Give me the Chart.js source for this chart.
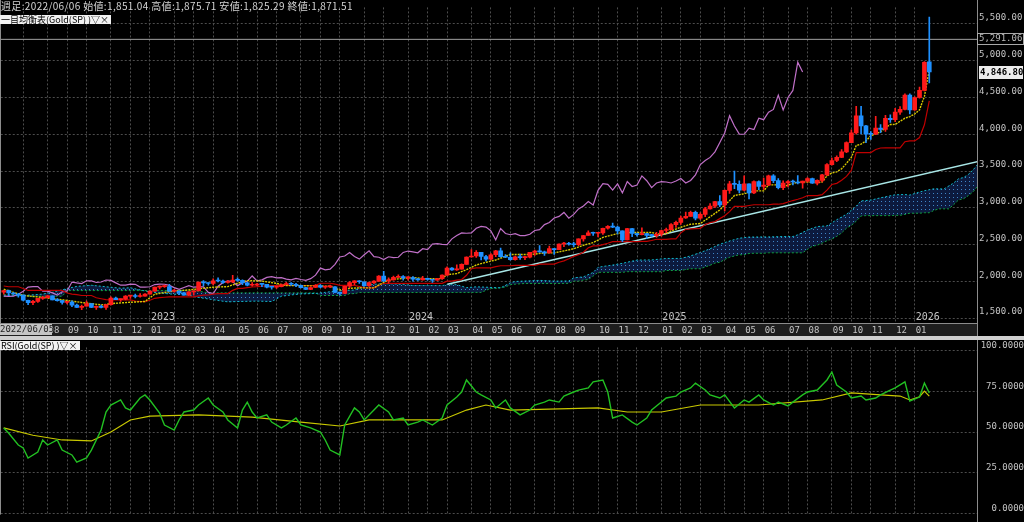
<!DOCTYPE html>
<html>
<head>
<meta charset="utf-8">
<title>Gold(SP) weekly</title>
<script src="https://cdn.jsdelivr.net/npm/chart.js@4.4.1/dist/chart.umd.min.js"></script>
<style>
  html, body { margin: 0; padding: 0; background: #000; }
  #wrap { position: relative; width: 1024px; height: 522px; overflow: hidden; background: #000; }
  canvas { position: absolute; left: 0; }
  #main { top: 0; }
  #rsi { top: 340px; }
  #sep { position: absolute; left: 0; top: 336px; width: 1024px; height: 4px; background: #cfcfcf; }
  .info { position: absolute; left: 1px; top: 0; color: #d4d4d4; font: 10px "Noto Sans CJK JP", sans-serif; letter-spacing: 0.35px; line-height: 11px; white-space: nowrap; }
  .tag { position: absolute; left: 0; background: #f2f2f2; color: #000; font: 9px "Noto Sans CJK JP", sans-serif; line-height: 9px; height: 9px; padding: 0 2px 0 1px; white-space: nowrap; }
  .datebox { position: absolute; left: 0; top: 324px; width: 52px; height: 11px; background: #c4c4c4; color: #222; font: 9px "DejaVu Sans Mono", monospace; line-height: 11px; text-align: center; }
</style>
</head>
<body>
<div id="wrap">
  <canvas id="main" width="1024" height="337"></canvas>
  <div id="sep"></div>
  <canvas id="rsi" width="1024" height="182"></canvas>
  <div class="info">週足:2022/06/06 始値:1,851.04 高値:1,875.71 安値:1,825.29 終値:1,871.51</div>
  <div class="tag" style="top:15px">一目均衡表(Gold(SP) )▽×</div>
  <div class="datebox">2022/06/05</div>
  <div class="tag" style="top:341px">RSI(Gold(SP) )▽×</div>
</div>
<script>
// weekly candles, week 0 = 2022/06/05
const opens = [
  1851,1872,1840,1827,1811,1742,1708,1727,1766,1775,1802,1747,1737,1712,1717,1675,1644,1660,1695,1644,1657,1645,1681,1771,1751,1755,1797,1797,1793,1798,
  1824,1865,1920,1926,1928,1865,1865,1842,1811,1856,1868,1989,1978,1969,2007,2004,1983,1990,2017,2011,1978,1946,1948,1961,1958,1921,1919,1925,1955,1962,1959,1943,1914,1889,1915,1940,1919,1924,1925,1849,1833,1932,1981,2006,1993,1940,1981,2002,2072,2004,2019,2053,
  2063,2045,2049,2029,2018,2039,2024,2013,2035,2083,2179,2155,2165,2230,2330,2344,2392,2337,2301,2360,2415,2334,2327,2294,2333,2321,2326,2392,2411,2400,2387,2443,2431,2507,2512,2503,2497,2577,2622,2658,2653,2657,2721,2747,2737,2685,2563,2716,2650,2633,2648,2622,
  2621,2640,2690,2703,2771,2800,2861,2883,2936,2858,2910,2984,3023,3084,3037,3237,3327,3319,3240,3325,3202,3357,3289,3310,3433,3368,3274,3337,3355,3350,3337,3363,3398,3336,3372,3448,3587,3643,3685,3760,3887,4018,4251,4113,4002,4000,4084,4065,4218,4198,4300,4338,
  4533,4330,4500,4596,4985
];
const highs = [
  1876,1879,1848,1835,1814,1745,1739,1767,1795,1807,1802,1765,1740,1728,1735,1688,1675,1730,1697,1667,1675,1682,1787,1786,1760,1805,1810,1824,1833,1833,
  1870,1921,1937,1949,1959,1890,1870,1849,1858,1871,1989,2010,1980,2032,2048,2015,2009,2079,2048,2019,1985,1983,1972,1971,1959,1932,1935,1963,1987,1982,1972,1947,1916,1925,1953,1953,1932,1947,1926,1853,1934,1997,2009,2010,1993,1988,2008,2076,2135,2047,2071,2088,
  2078,2062,2062,2041,2066,2044,2031,2041,2088,2195,2185,2223,2236,2331,2432,2418,2392,2354,2378,2422,2450,2364,2388,2342,2368,2340,2392,2424,2484,2412,2477,2448,2509,2531,2528,2529,2578,2626,2685,2670,2660,2722,2758,2790,2750,2685,2721,2721,2657,2726,2653,2639,
  2665,2697,2725,2786,2817,2886,2942,2955,2956,2930,3005,3057,3087,3167,3245,3358,3500,3367,3435,3326,3366,3366,3403,3446,3452,3398,3366,3368,3375,3439,3363,3409,3404,3379,3453,3600,3675,3707,3791,3897,4059,4381,4381,4120,4035,4245,4133,4257,4265,4353,4375,4549,
  4550,4510,4643,4990,5595
];
const lows = [
  1825,1805,1822,1785,1732,1681,1680,1711,1754,1771,1745,1728,1688,1691,1654,1640,1615,1660,1640,1618,1638,1617,1674,1748,1727,1745,1765,1774,1785,1796,
  1823,1860,1896,1916,1861,1853,1819,1809,1805,1810,1867,1935,1945,1950,1990,1969,1975,1982,2002,1952,1938,1932,1939,1925,1910,1893,1902,1924,1952,1942,1926,1910,1885,1884,1913,1914,1901,1912,1846,1810,1832,1908,1953,1971,1932,1931,1966,1999,1993,1973,2016,2052,
  2016,2013,2002,2010,2016,2014,1984,2010,2025,2083,2146,2146,2163,2228,2326,2324,2291,2277,2291,2334,2326,2320,2287,2287,2296,2294,2318,2353,2393,2353,2381,2364,2431,2470,2491,2471,2485,2547,2622,2625,2603,2638,2708,2730,2643,2537,2563,2605,2613,2631,2583,2603,
  2597,2614,2657,2697,2731,2772,2856,2881,2833,2840,2880,2982,3000,3015,2957,3194,3260,3202,3230,3121,3190,3246,3250,3300,3340,3255,3247,3283,3309,3324,3268,3348,3331,3311,3351,3436,3579,3628,3680,3750,3884,4000,4004,3886,3930,3995,4022,4040,4160,4172,4271,4330,
  4275,4325,4490,4590,4700
];
const closes = [
  1871.51,1840,1827,1811,1742,1708,1727,1766,1775,1802,1747,1737,1712,1717,1675,1644,1660,1695,1644,1657,1645,1681,1771,1751,1755,1797,1797,1793,1798,1824,
  1865,1920,1926,1928,1865,1865,1842,1811,1856,1868,1989,1978,1969,2007,2004,1983,1990,2017,2011,1978,1946,1948,1961,1958,1921,1919,1925,1955,1962,1959,1943,1914,1889,1915,1940,1919,1924,1925,1849,1833,1932,1981,2006,1993,1940,1981,2002,2072,2004,2019,2053,2063,
  2045,2049,2029,2018,2039,2024,2013,2035,2083,2179,2155,2165,2230,2330,2344,2392,2337,2301,2360,2415,2334,2327,2294,2333,2321,2326,2392,2411,2400,2387,2443,2431,2507,2512,2503,2497,2577,2622,2658,2653,2657,2721,2747,2737,2685,2563,2716,2650,2633,2648,2622,2621,
  2640,2690,2703,2771,2800,2861,2883,2936,2858,2910,2984,3023,3084,3037,3237,3327,3319,3240,3325,3202,3357,3289,3310,3433,3368,3274,3337,3355,3350,3337,3363,3398,3336,3372,3448,3587,3643,3685,3760,3887,4018,4251,4113,4002,4000,4084,4065,4218,4198,4300,4338,4533,
  4330,4500,4596,4980,4846.80
];

// ichimoku lines (week, price)
const tenkanWeeks = [0,4,8,12,16,20,23,26,29,31,33,35,38,40,43,46,48,50,53,56,58,61,64,67,69,71,73,76,78,79,81,84,87,88,90,91,93,95,97,99,101,104,107,109,111,113,115,117,119,121,123,125,127,129,131,133,134,136,137,139,141,143,145,147,148,149,150,152,154,156,157,159,160,162,163,165,167,168,169,170,171,172,173,174,175,176,177,178,179,180,181,182,183,185,186,187,188,189,190];
const tenkanValues = [1892,1806,1780,1748,1711,1678,1701,1714,1725,1824,1847,1867,1882,1897,1919,1927,1973,2009,2002,1971,1940,1940,1936,1933,1882,1904,1910,1910,1984,2022,2033,2051,2031,2036,2036,2090,2104,2158,2221,2258,2289,2364,2364,2369,2386,2386,2413,2442,2490,2525,2596,2631,2664,2664,2664,2664,2644,2645,2685,2735,2776,2785,2877,2970,3039,3096,3167,3190,3229,3229,3311,3311,3287,3329,3349,3350,3343,3350,3434,3472,3488,3530,3604,3685,3846,3866,3909,3980,4005,4033,4087,4133,4134,4218,4240,4275,4333,4515,4878];

const kijunWeeks = [0,1,3,4,5,12,13,14,15,16,18,19,20,21,22,26,27,28,29,30,31,32,33,34,39,40,41,42,43,44,46,47,48,49,50,51,52,53,54,55,63,64,65,67,68,69,72,73,74,75,76,77,78,90,91,92,93,94,95,96,97,100,101,102,104,105,109,110,113,114,115,116,117,118,119,120,121,122,123,124,125,130,131,132,133,134,136,137,138,139,140,141,143,144,145,146,147,148,149,150,152,153,154,157,158,159,160,161,162,163,164,165,167,168,169,170,171,172,173,174,175,178,179,180,181,184,185,186,187,188,189,190];
const kijunValues = [1935,1925,1925,1901,1875,1875,1840,1826,1819,1806,1806,1775,1762,1750,1747,1747,1731,1725,1724,1742,1768,1776,1782,1787,1787,1802,1812,1813,1824,1832,1832,1876,1903,1903,1912,1922,1926,1932,1937,1942,1942,1944,1973,1973,1962,1944,1944,1929,1914,1910,1910,1943,1972,1972,2002,2002,2016,2023,2081,2170,2181,2181,2199,2211,2211,2217,2217,2234,2234,2259,2278,2307,2338,2362,2394,2456,2481,2481,2499,2517,2538,2538,2542,2542,2554,2571,2571,2577,2577,2658,2706,2713,2720,2771,2797,2812,2852,2891,2947,3018,3018,3031,3041,3041,3048,3048,3057,3078,3098,3115,3136,3166,3166,3178,3240,3316,3332,3374,3427,3508,3751,3751,3793,3813,3814,3814,3898,3909,3909,3955,4129,4453];

const spanAWeeks = [0,4,8,10,13,15,18,21,24,26,30,34,38,39,42,45,46,48,52,55,57,59,61,64,66,69,72,74,76,79,82,84,87,90,91,93,95,97,99,102,104,105,107,110,113,116,117,119,121,122,123,125,127,130,133,136,139,141,143,145,147,149,151,153,157,160,162,163,165,167,169,171,173,174,175,176,178,180,183,185,186,188,189,191,193,195,196,197,198,199,200];
const spanAValues = [1800,1805,1825,1850,1900,1930,1945,1925,1905,1911,1853,1828,1812,1790,1759,1728,1720,1724,1730,1724,1796,1814,1827,1834,1849,1872,1880,1938,1960,1967,1956,1941,1941,1940,1954,1953,1913,1924,1919,1910,1978,1997,2003,2012,2002,2004,2046,2060,2120,2189,2201,2220,2244,2288,2290,2310,2310,2345,2390,2442,2503,2548,2585,2601,2603,2608,2608,2631,2697,2744,2753,2837,2911,2965,3022,3093,3104,3135,3176,3180,3172,3214,3232,3258,3255,3337,3394,3410,3452,3515,3596];

const spanBWeeks = [0,4,5,12,13,34,35,39,40,41,42,64,65,70,71,72,73,93,94,98,99,100,101,102,103,104,105,106,107,115,116,117,118,119,120,121,122,127,128,135,136,139,140,141,143,144,145,146,147,148,149,150,151,152,153,154,156,157,164,165,166,167,168,169,170,171,172,173,174,175,176,177,182,183,184,185,186,188,189,190,191,192,194,195,196,197,198,199,200];
const spanBValues = [1818,1818,1796,1796,1873,1873,1875,1875,1862,1855,1842,1842,1806,1806,1831,1831,1847,1847,1848,1848,1876,1903,1903,1912,1922,1954,1960,1965,1970,1970,1972,2002,2002,2016,2023,2070,2121,2121,2130,2130,2147,2147,2159,2170,2170,2194,2218,2247,2258,2296,2326,2344,2360,2360,2378,2381,2381,2387,2387,2435,2476,2490,2519,2551,2575,2610,2657,2722,2761,2817,2888,2893,2893,2897,2897,2909,2926,2926,2932,2932,2965,2985,2985,3042,3106,3122,3164,3217,3298];

const trendWeeks = [91.1, 200];
const trendValues = [1960, 3629];
const markLevel = 5291.06;
const lastPrice = 4846.80;

// RSI panel (week, value)
const rsiWeeks = [0,1,3,4,5,7,8,9,11,12,14,15,17,18,20,21,22,24,25,26,28,29,30,32,33,35,36,37,39,40,42,43,45,46,48,49,50,51,52,54,55,57,58,60,61,63,65,66,67,69,70,72,73,74,76,77,79,80,82,83,85,86,88,90,91,93,94,95,97,98,100,101,103,104,106,108,109,111,112,114,115,117,118,120,121,123,124,125,127,129,130,132,133,135,136,138,139,141,142,144,145,147,148,150,152,153,155,156,158,159,161,162,164,165,167,169,170,171,173,174,176,177,179,180,182,183,185,186,188,189,190];
const rsiValues = [52.5,49.4,42,40.2,34,37.7,45.1,42,45.1,38.9,35.9,31.5,34,38.9,51.2,62.3,66.6,69.7,64.8,63.5,70.9,72.8,69.7,61.7,54.3,51.2,57.4,62.3,63.5,66.6,70.9,66.6,62.3,57.4,52.5,63.5,68.4,62.3,58.6,60.5,56.1,52.5,54.3,58.6,54.3,52.5,50,45.1,38.9,35.9,54.3,64.8,62.3,57.4,63.5,66.6,62.3,57.4,58.6,54.3,56.1,57.4,54.3,58.6,66.6,71.5,74.6,82,74.6,72.8,69.7,64.8,69.7,64.8,60.5,63.5,66.6,68.4,69.7,68.4,72.1,74.6,75.8,77.1,80.8,82,74.6,58.6,60.5,56.1,54.3,58.6,63.5,68.4,70.9,72.1,74.6,77.1,80.1,75.8,72.8,70.9,72.8,64.8,69.7,68.4,72.8,69.7,66.6,68.4,66,68.4,72.8,74.6,75.8,82,86.9,78.9,74.6,70.9,72.1,69.7,70.9,72.8,75.8,77.1,80.8,69.1,71.5,80.1,74];
const sigWeeks = [0,6,12,18,22,26,30,40,51,61,69,75,90,95,99,104,122,128,135,143,155,168,174,180,184,186,188,189,190];
const sigValues = [52.5,48,45.1,44.5,50,57.4,59.8,60.5,59.2,56.1,53.7,57.4,57.4,63.5,66.6,63.5,64.8,62.3,62.3,66.6,66.6,69.7,74,72.8,72.1,69.7,71.7,75.2,72.1];

// axis ticks
const monthWeeks = [4,9,13,17,22,26,30,35,39,43,48,52,56,61,65,69,74,78,83,87,91,96,100,104,109,113,117,122,126,130,135,139,143,148,152,156,161,165,170,174,178,183,187];
const monthLabels = ['07','08','09','10','11','12','01','02','03','04','05','06','07','08','09','10','11','12','01','02','03','04','05','06','07','08','09','10','11','12','01','02','03','04','05','06','07','08','09','10','11','12','01'];
const yearWeeks = [30, 83, 135, 187];
const yearLabels = ['2023', '2024', '2025', '2026'];
const priceTicks = [1500, 2000, 2500, 3000, 3500, 4000, 4500, 5000, 5500];
const rsiTicks = [0, 25, 50, 75, 100];

const UP = '#ff1a1a';
const DOWN = '#1e90ff';
const GRID = '#4c4c4c';
const LABEL = '#c4c4c4';
const MONO = '"DejaVu Sans Mono", monospace';
const WEEK_PX = 4.875;
const FIRST_PX = 3;

const pts = (w, v) => w.map((x, i) => ({ x, y: v[i] }));
const fmtPrice = v => v.toLocaleString('en-US', { minimumFractionDigits: 2, maximumFractionDigits: 2 });

const mainCtx = document.getElementById('main').getContext('2d');
const dot = document.createElement('canvas');
dot.width = 4; dot.height = 4;
const dg = dot.getContext('2d');
dg.fillStyle = '#0c1a3e'; dg.fillRect(0, 0, 4, 4);
dg.fillStyle = '#3f86c8'; dg.fillRect(1, 1, 1, 1);
const cloudFill = mainCtx.createPattern(dot, 'repeat');

const xAxis = (showLabels) => ({
  type: 'linear',
  min: -0.6,
  max: 199.8,
  offset: false,
  afterBuildTicks: s => { s.ticks = monthWeeks.map(v => ({ value: v })); },
  afterFit: s => { s.height = showLabels ? 14 : 0; },
  ticks: {
    display: showLabels,
    autoSkip: false,
    maxRotation: 0,
    align: 'start',
    labelOffset: 1,
    padding: 2,
    color: LABEL,
    font: { family: MONO, size: 9 },
    callback: (v, i) => monthLabels[i],
  },
  grid: { color: GRID, drawTicks: false, offset: false },
  border: { display: false, dash: [2, 2] },
});

// line the scales up with the reference grid once the chart area is known
const calibrate = (chart, topVal, topPx, botVal, botPx) => {
  const a = chart.chartArea;
  const per = (botPx - topPx) / (topVal - botVal);
  chart.options.scales.y.max = topVal + (topPx - a.top) / per;
  chart.options.scales.y.min = botVal - (a.bottom - botPx) / per;
  chart.options.scales.x.min = (a.left - FIRST_PX) / WEEK_PX;
  chart.options.scales.x.max = chart.options.scales.x.min + (a.right - a.left) / WEEK_PX;
  chart.update();
};

const decor = {
  id: 'decor',
  beforeDraw(chart) {
    const { ctx, chartArea: a, width, height } = chart;
    ctx.save();
    ctx.fillStyle = '#000';
    ctx.fillRect(0, 0, width, height);
    if (chart.canvas.id === 'main') {
      ctx.fillStyle = '#1e1e1e';
      ctx.fillRect(0, a.bottom, a.right, height - a.bottom);
    }
    ctx.restore();
  },
  afterDraw(chart) {
    const { ctx, chartArea: a, height, scales } = chart;
    ctx.save();
    ctx.strokeStyle = '#8c8c8c';
    ctx.lineWidth = 1;
    ctx.beginPath();
    ctx.moveTo(a.right + 0.5, 0);
    ctx.lineTo(a.right + 0.5, height);
    ctx.moveTo(0.5, 0);
    ctx.lineTo(0.5, a.bottom);
    if (chart.canvas.id === 'main') {
      ctx.moveTo(0, a.bottom + 0.5);
      ctx.lineTo(a.right, a.bottom + 0.5);
    }
    ctx.stroke();

    if (chart.canvas.id === 'main') {
      ctx.font = '10px ' + MONO;
      ctx.fillStyle = LABEL;
      ctx.textBaseline = 'bottom';
      yearWeeks.forEach((w, i) => {
        ctx.fillText(yearLabels[i], scales.x.getPixelForValue(w) + 1, a.bottom - 1);
      });

      const ym = Math.round(scales.y.getPixelForValue(markLevel));
      ctx.strokeStyle = '#a8a8a8';
      ctx.strokeRect(a.right + 0.5, ym - 5.5, 46, 11);
      ctx.fillStyle = '#b8b8b8';
      ctx.font = '9px ' + MONO;
      ctx.textBaseline = 'middle';
      ctx.fillText(fmtPrice(markLevel), a.right + 2, ym);

      const yl = Math.round(scales.y.getPixelForValue(lastPrice));
      ctx.fillStyle = '#ececec';
      ctx.fillRect(a.right + 2, yl - 6, 44, 13);
      ctx.fillStyle = '#000';
      ctx.font = 'bold 9px ' + MONO;
      ctx.fillText(fmtPrice(lastPrice), a.right + 3, yl + 0.5);
    }
    ctx.restore();
  },
};

const line = (label, data, color, extra) => Object.assign({
  type: 'line', label, data, borderColor: color, borderWidth: 1,
  pointRadius: 0, tension: 0, fill: false,
}, extra || {});

const mainChart = new Chart(mainCtx, {
  type: 'bar',
  data: {
    datasets: [
      {
        label: 'body', order: 1, grouped: false, barThickness: 4, minBarLength: 1,
        data: opens.map((o, i) => ({ x: i, y: [o, closes[i]] })),
        backgroundColor: c => (closes[c.dataIndex] >= opens[c.dataIndex] ? UP : DOWN),
        borderWidth: 0,
      },
      {
        label: 'wick', order: 2, grouped: false, barThickness: 1,
        data: lows.map((l, i) => ({ x: i, y: [l, highs[i]] })),
        backgroundColor: c => (closes[c.dataIndex] >= opens[c.dataIndex] ? UP : DOWN),
        borderWidth: 0,
      },
      line('tenkan', pts(tenkanWeeks, tenkanValues), '#d8c800', { order: 3, borderDash: [2, 1], borderWidth: 1.4 }),
      line('kijun', pts(kijunWeeks, kijunValues), '#c00000', { order: 4, borderWidth: 1.2 }),
      line('chikou', closes.slice(26).map((c, i) => ({ x: i, y: c })), '#c070c8', { order: 5, borderWidth: 1.2 }),
      line('trend', pts(trendWeeks, trendValues), '#a8e6e6', { order: 6, borderWidth: 1.5 }),
      line('mark', [{ x: -5, y: markLevel }, { x: 210, y: markLevel }], '#a0a0a0', { order: 7 }),
      line('spanA', pts(spanAWeeks, spanAValues), '#10b8c8', { order: 8, borderDash: [2, 2] }),
      line('spanB', pts(spanBWeeks, spanBValues), '#10a040', { order: 9, borderDash: [2, 2], fill: '-1', backgroundColor: cloudFill }),
    ],
  },
  options: {
    responsive: false,
    animation: false,
    events: [],
    layout: { padding: 0 },
    plugins: { legend: { display: false }, tooltip: { enabled: false } },
    scales: {
      x: xAxis(true),
      y: {
        position: 'right',
        min: 1459.5,
        max: 5824.3,
        afterFit: s => { s.width = 47; },
        afterBuildTicks: s => { s.ticks = priceTicks.map(v => ({ value: v })); },
        ticks: {
          color: LABEL, padding: 2, labelOffset: -6,
          font: { family: MONO, size: 9 },
          callback: v => fmtPrice(v),
        },
        grid: { color: GRID, drawTicks: false },
        border: { display: false, dash: [2, 2] },
      },
    },
  },
  plugins: [decor],
});
calibrate(mainChart, 5500, 24, 1500, 318);

const rsiChart = new Chart(document.getElementById('rsi').getContext('2d'), {
  type: 'line',
  data: {
    datasets: [
      line('rsi', pts(rsiWeeks, rsiValues), '#22c022', { borderWidth: 1.4 }),
      line('signal', pts(sigWeeks, sigValues), '#c8c800', { borderWidth: 1.2 }),
    ],
  },
  options: {
    responsive: false,
    animation: false,
    events: [],
    layout: { padding: 0 },
    plugins: { legend: { display: false }, tooltip: { enabled: false } },
    scales: {
      x: xAxis(false),
      y: {
        position: 'right',
        min: -5.35,
        max: 106.6,
        afterFit: s => { s.width = 47; },
        afterBuildTicks: s => { s.ticks = rsiTicks.map(v => ({ value: v })); },
        ticks: {
          color: LABEL, padding: 2, labelOffset: -5, crossAlign: 'far',
          font: { family: MONO, size: 9 },
          callback: v => v.toFixed(4),
        },
        grid: { color: GRID, drawTicks: false },
        border: { display: false, dash: [2, 2] },
      },
    },
  },
  plugins: [decor],
});
calibrate(rsiChart, 100, 10.7, 0, 173.3);
</script>
</body>
</html>
